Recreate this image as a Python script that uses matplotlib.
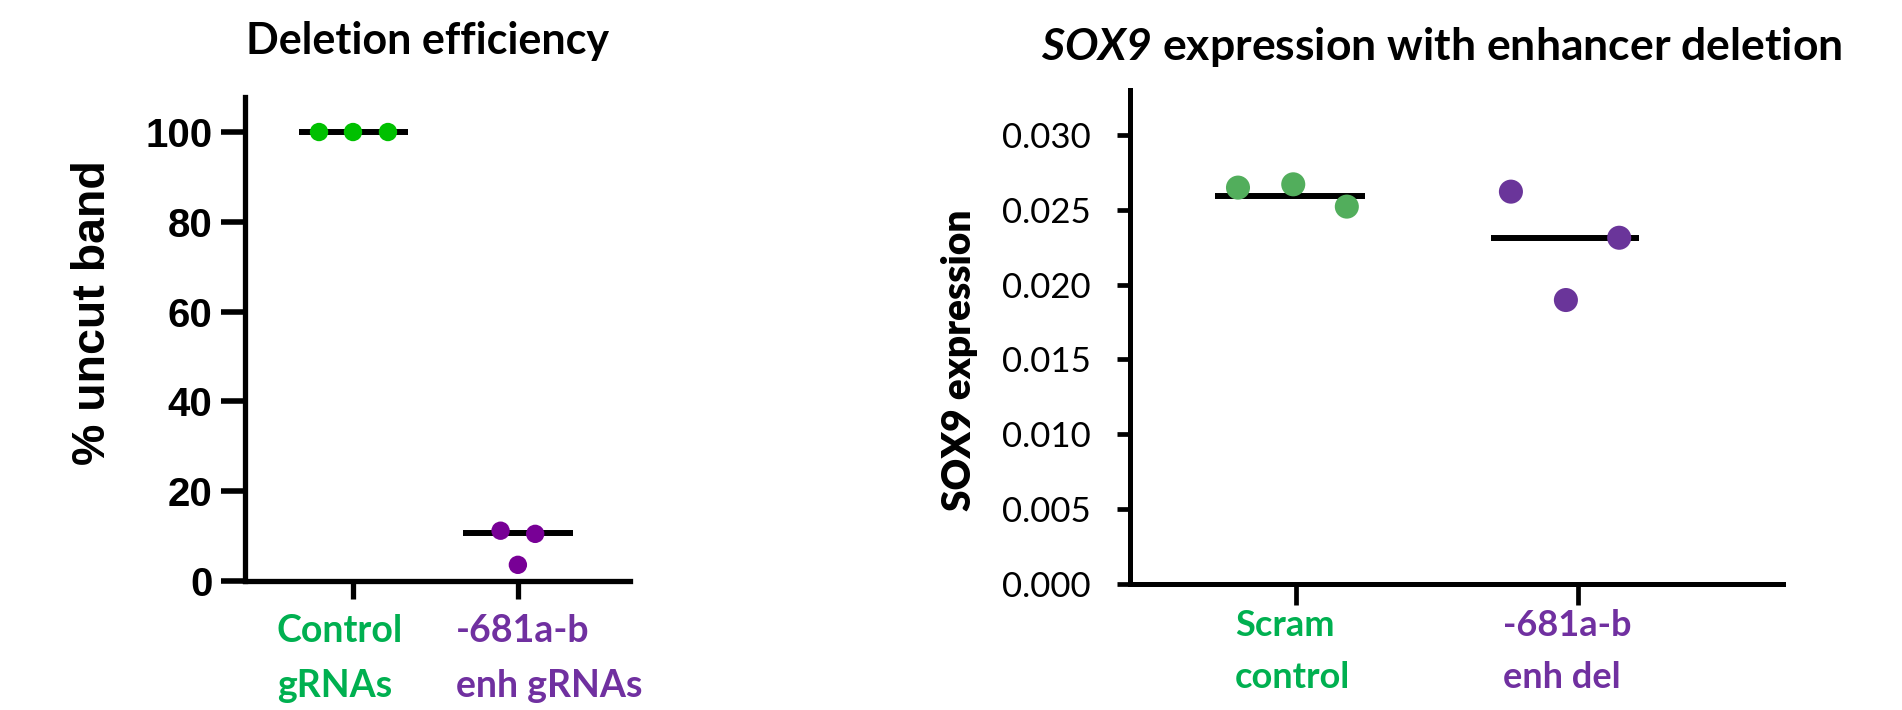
import matplotlib
matplotlib.use("Agg")
import matplotlib.pyplot as plt
import matplotlib.transforms as mtransforms

# italic gene name in the title: rm slot holds bold italic Lato so digits slant too
plt.rcParams['mathtext.fontset'] = 'custom'
plt.rcParams['mathtext.rm'] = 'Lato:italic:bold'

# left panel: deletion efficiency (% uncut band)
left_groups = ["Control\ngRNAs", "-681a-b\nenh gRNAs"]
left_control = [100, 100, 100]
left_enh = [11.2, 10.5, 3.6]
left_medians = [100, 10.6]
left_yticks = [0, 20, 40, 60, 80, 100]

# right panel: SOX9 expression
right_groups = ["Scram\ncontrol", "-681a-b\nenh del"]
right_scram = [0.02648, 0.02670, 0.02521]
right_enh = [0.02621, 0.02313, 0.01897]
right_medians = [0.02592, 0.02313]
right_yticks = [0.000, 0.005, 0.010, 0.015, 0.020, 0.025, 0.030]

# horizontal scatter of the points inside each group
left_jitter = [[-0.206, 0.0, 0.212], [-0.105, 0.105, 0.0]]
right_jitter = [[-0.206, -0.01, 0.18], [-0.238, 0.146, -0.043]]

label_colors = ["#00B050", "#7030A0"]

fig = plt.figure(figsize=(19.02, 7.10), dpi=100)

# ---------------- left ----------------
ax1 = fig.add_axes([245/1902, 1-581/710, (630-245)/1902, (581-97)/710])
cols1 = ["#00C000", "#780096"]
for i, vals in enumerate([left_control, left_enh]):
    xs = [i + j for j in left_jitter[i]]
    ax1.hlines(left_medians[i], i - 0.33, i + 0.335, color="black", lw=4.3, zorder=2)
    ax1.scatter(xs, vals, s=175, color=cols1[i], edgecolors="none", zorder=3, clip_on=False)
ax1.set_xlim(-0.655, 1.68)
ax1.set_ylim(0, 107.8)
ax1.set_yticks(left_yticks)
ax1.set_yticklabels([str(v) for v in left_yticks], fontfamily="Liberation Sans",
                    fontweight="bold", fontsize=29)
ax1.set_xticks([0, 1])
ax1.set_xticklabels(left_groups, fontfamily="Lato", fontweight="bold", fontsize=27,
                    ha="left", multialignment="left", linespacing=1.75)
for spn in ["top", "right"]:
    ax1.spines[spn].set_visible(False)
for spn in ["left", "bottom"]:
    ax1.spines[spn].set_linewidth(3.8)
ax1.tick_params(axis="y", length=17, width=4, pad=6.5)
ax1.tick_params(axis="x", length=13, width=3.8, pad=11)
for lab, c, dx in zip(ax1.get_xticklabels(), label_colors, [-76, -62]):
    lab.set_color(c)
    lab.set_transform(lab.get_transform() + mtransforms.ScaledTranslation(dx/100, 0, fig.dpi_scale_trans))

fig.text(427/1902, 1-54/710, "Deletion efficiency", ha="center", va="baseline",
         fontfamily="Lato", fontweight="bold", fontsize=31)
fig.text(93/1902, 1-313/710, "% uncut band", rotation=90, ha="center", va="center",
         fontfamily="Liberation Sans", fontweight="bold", fontsize=33.5)

# ---------------- right ----------------
ax2 = fig.add_axes([1130/1902, 1-584/710, (1783-1130)/1902, (584-90)/710])
cols2 = ["#52AE5C", "#6A359A"]
half = [(-0.287, 0.245), (-0.31, 0.216)]
for i, vals in enumerate([right_scram, right_enh]):
    xs = [i + j for j in right_jitter[i]]
    ax2.hlines(right_medians[i], i + half[i][0], i + half[i][1], color="black", lw=4.3, zorder=2)
    ax2.scatter(xs, vals, s=300, color=cols2[i], edgecolors="none", zorder=3, clip_on=False)
ax2.set_xlim(-0.589, 1.727)
ax2.set_ylim(0, 0.0330)
ax2.set_yticks(right_yticks)
ax2.set_yticklabels([f"{v:.3f}" for v in right_yticks], fontfamily="Lato", fontsize=25)
ax2.set_xticks([0, 1])
ax2.set_xticklabels(right_groups, fontfamily="Lato", fontweight="bold", fontsize=26,
                    ha="left", multialignment="left", linespacing=1.7)
for spn in ["top", "right"]:
    ax2.spines[spn].set_visible(False)
for spn in ["left", "bottom"]:
    ax2.spines[spn].set_linewidth(3.6)
ax2.tick_params(axis="y", length=9.4, width=3.4, pad=19)
ax2.tick_params(axis="x", length=15, width=3.4, pad=3)
for lab, c, dx in zip(ax2.get_xticklabels(), label_colors, [-61, -75]):
    lab.set_color(c)
    lab.set_transform(lab.get_transform() + mtransforms.ScaledTranslation(dx/100, 0, fig.dpi_scale_trans))

fig.text(1442/1902, 1-60/710, "$\\mathrm{SOX9}$ expression with enhancer deletion",
         ha="center", va="baseline", fontfamily="Lato", fontweight="bold", fontsize=32)
fig.text(959/1902, 1-360/710, "SOX9 expression", rotation=90, ha="center", va="center",
         fontfamily="Lato", fontweight="heavy", fontsize=28)

fig.savefig("out.png", dpi=100)
